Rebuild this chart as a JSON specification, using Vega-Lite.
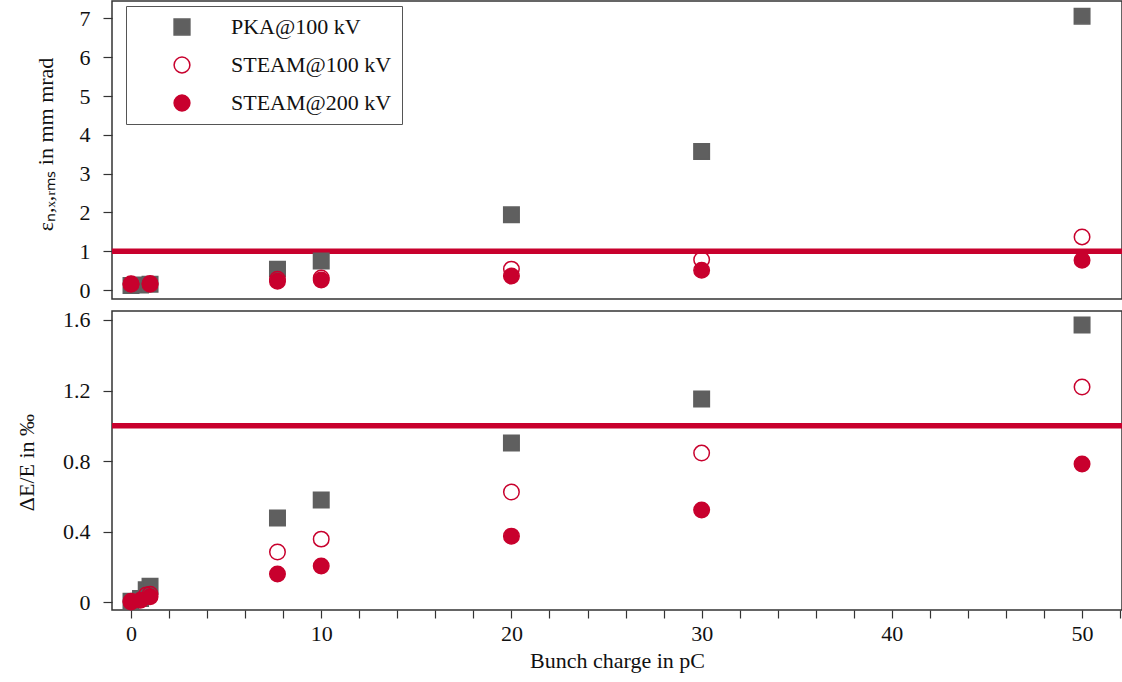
{
  "$schema": "https://vega.github.io/schema/vega-lite/v6.json",
  "background": "white",
  "padding": {"left": 14, "top": 0, "right": 1, "bottom": 4},
  "spacing": 6,
  "config": {
    "font": "Liberation Serif",
    "view": {"stroke": "#333", "strokeWidth": 1.5},
    "axis": {
      "labelFont": "Liberation Serif", "labelFontSize": 22, "labelColor": "#111",
      "titleFont": "Liberation Serif", "titleFontSize": 22, "titleFontWeight": "normal", "titleColor": "#111",
      "grid": false, "domain": false, "tickColor": "#333", "tickWidth": 1.2, "tickSize": 9, "labelOverlap": false
    },
    "legend": {
      "strokeColor": "#555", "fillColor": "white", "padding": 10,
      "symbolOffset": 35, "labelOffset": 38, "rowPadding": 16,
      "labelFont": "Liberation Serif", "labelFontSize": 22, "labelColor": "#111",
      "symbolSize": 250, "symbolStrokeWidth": 1.5, "labelLimit": 400
    }
  },
  "data": {"values": [
      {"kind": "pt", "panel": "top", "series": "PKA@100 kV", "q": 0, "v": 0.12},
      {"kind": "pt", "panel": "top", "series": "PKA@100 kV", "q": 0.5, "v": 0.13},
      {"kind": "pt", "panel": "top", "series": "PKA@100 kV", "q": 1, "v": 0.15},
      {"kind": "pt", "panel": "top", "series": "PKA@100 kV", "q": 7.7, "v": 0.54},
      {"kind": "pt", "panel": "top", "series": "PKA@100 kV", "q": 10, "v": 0.75},
      {"kind": "pt", "panel": "top", "series": "PKA@100 kV", "q": 20, "v": 1.94},
      {"kind": "pt", "panel": "top", "series": "PKA@100 kV", "q": 30, "v": 3.57},
      {"kind": "pt", "panel": "top", "series": "PKA@100 kV", "q": 50, "v": 7.06},
      {"kind": "pt", "panel": "top", "series": "STEAM@100 kV", "q": 0, "v": 0.16},
      {"kind": "pt", "panel": "top", "series": "STEAM@100 kV", "q": 1, "v": 0.17},
      {"kind": "pt", "panel": "top", "series": "STEAM@100 kV", "q": 7.7, "v": 0.28},
      {"kind": "pt", "panel": "top", "series": "STEAM@100 kV", "q": 10, "v": 0.31},
      {"kind": "pt", "panel": "top", "series": "STEAM@100 kV", "q": 20, "v": 0.54},
      {"kind": "pt", "panel": "top", "series": "STEAM@100 kV", "q": 30, "v": 0.78},
      {"kind": "pt", "panel": "top", "series": "STEAM@100 kV", "q": 50, "v": 1.37},
      {"kind": "pt", "panel": "top", "series": "STEAM@200 kV", "q": 0, "v": 0.15},
      {"kind": "pt", "panel": "top", "series": "STEAM@200 kV", "q": 1, "v": 0.15},
      {"kind": "pt", "panel": "top", "series": "STEAM@200 kV", "q": 7.7, "v": 0.23},
      {"kind": "pt", "panel": "top", "series": "STEAM@200 kV", "q": 10, "v": 0.26},
      {"kind": "pt", "panel": "top", "series": "STEAM@200 kV", "q": 20, "v": 0.36},
      {"kind": "pt", "panel": "top", "series": "STEAM@200 kV", "q": 30, "v": 0.51},
      {"kind": "pt", "panel": "top", "series": "STEAM@200 kV", "q": 50, "v": 0.77},
      {"kind": "pt", "panel": "bottom", "series": "PKA@100 kV", "q": 0, "v": 0.005},
      {"kind": "pt", "panel": "bottom", "series": "PKA@100 kV", "q": 0.5, "v": 0.02},
      {"kind": "pt", "panel": "bottom", "series": "PKA@100 kV", "q": 0.8, "v": 0.07},
      {"kind": "pt", "panel": "bottom", "series": "PKA@100 kV", "q": 1, "v": 0.09},
      {"kind": "pt", "panel": "bottom", "series": "PKA@100 kV", "q": 7.7, "v": 0.477},
      {"kind": "pt", "panel": "bottom", "series": "PKA@100 kV", "q": 10, "v": 0.579},
      {"kind": "pt", "panel": "bottom", "series": "PKA@100 kV", "q": 20, "v": 0.902},
      {"kind": "pt", "panel": "bottom", "series": "PKA@100 kV", "q": 30, "v": 1.152},
      {"kind": "pt", "panel": "bottom", "series": "PKA@100 kV", "q": 50, "v": 1.572},
      {"kind": "pt", "panel": "bottom", "series": "STEAM@100 kV", "q": 0, "v": 0.005},
      {"kind": "pt", "panel": "bottom", "series": "STEAM@100 kV", "q": 0.8, "v": 0.04},
      {"kind": "pt", "panel": "bottom", "series": "STEAM@100 kV", "q": 1, "v": 0.045},
      {"kind": "pt", "panel": "bottom", "series": "STEAM@100 kV", "q": 7.7, "v": 0.284},
      {"kind": "pt", "panel": "bottom", "series": "STEAM@100 kV", "q": 10, "v": 0.357},
      {"kind": "pt", "panel": "bottom", "series": "STEAM@100 kV", "q": 20, "v": 0.624},
      {"kind": "pt", "panel": "bottom", "series": "STEAM@100 kV", "q": 30, "v": 0.845},
      {"kind": "pt", "panel": "bottom", "series": "STEAM@100 kV", "q": 50, "v": 1.22},
      {"kind": "pt", "panel": "bottom", "series": "STEAM@200 kV", "q": 0, "v": 0.0},
      {"kind": "pt", "panel": "bottom", "series": "STEAM@200 kV", "q": 0.5, "v": 0.01},
      {"kind": "pt", "panel": "bottom", "series": "STEAM@200 kV", "q": 1, "v": 0.03},
      {"kind": "pt", "panel": "bottom", "series": "STEAM@200 kV", "q": 7.7, "v": 0.159},
      {"kind": "pt", "panel": "bottom", "series": "STEAM@200 kV", "q": 10, "v": 0.204},
      {"kind": "pt", "panel": "bottom", "series": "STEAM@200 kV", "q": 20, "v": 0.374},
      {"kind": "pt", "panel": "bottom", "series": "STEAM@200 kV", "q": 30, "v": 0.522},
      {"kind": "pt", "panel": "bottom", "series": "STEAM@200 kV", "q": 50, "v": 0.783},
      {"kind": "ref", "panel": "top", "series": "ref", "q": 0, "v": 1, "label": "1 mm mrad"},
      {"kind": "ref", "panel": "bottom", "series": "ref", "q": 0, "v": 1, "label": "1 ‰"}
  ]},
  "vconcat": [
    {
      "width": 1010,
      "height": 298,
      "layer": [
        {
          "transform": [{"filter": "datum.panel === 'top' && datum.kind === 'ref'"}],
          "mark": {"type": "rule", "color": "#c8002d", "strokeWidth": 5.5},
          "encoding": {
            "y": {"field": "v", "type": "quantitative", "scale": {"domain": [-0.23, 7.45], "nice": false, "zero": false}}
          }
        },
        {
          "transform": [{"filter": "datum.panel === 'top' && datum.kind === 'pt'"}],
          "mark": {"type": "point", "opacity": 1, "strokeWidth": 1.5, "size": 240},
          "encoding": {
            "x": {"field": "q", "type": "quantitative", "axis": null, "scale": {"domain": [-1, 52.1], "nice": false, "zero": false}},
            "y": {
              "field": "v", "type": "quantitative",
              "axis": {"values": [0, 1, 2, 3, 4, 5, 6, 7], "format": "~g", "labelPadding": 13, "title": "εₙ,ₓ,ᵣₘₛ in mm mrad", "titleX": -67, "titleY": 143, "titleAngle": 270, "titleAlign": "center", "titleBaseline": "middle"}
            },
            "shape": {"field": "series", "type": "nominal", "scale": {"domain": ["PKA@100 kV", "STEAM@100 kV", "STEAM@200 kV"], "range": ["square", "circle", "circle"]},
              "legend": {"title": null, "orient": "none", "legendX": 14, "legendY": 5}},
            "fill": {"field": "series", "type": "nominal", "scale": {"domain": ["PKA@100 kV", "STEAM@100 kV", "STEAM@200 kV"], "range": ["#5f5f5f", "transparent", "#c8002d"]},
              "legend": {"title": null, "orient": "none", "legendX": 14, "legendY": 5}},
            "stroke": {"field": "series", "type": "nominal", "scale": {"domain": ["PKA@100 kV", "STEAM@100 kV", "STEAM@200 kV"], "range": ["#5f5f5f", "#c8002d", "#c8002d"]},
              "legend": {"title": null, "orient": "none", "legendX": 14, "legendY": 5}}
          }
        }
      ]
    },
    {
      "width": 1010,
      "height": 299,
      "layer": [
        {
          "transform": [{"filter": "datum.panel === 'bottom' && datum.kind === 'ref'"}],
          "mark": {"type": "rule", "color": "#c8002d", "strokeWidth": 5.5},
          "encoding": {
            "y": {"field": "v", "type": "quantitative", "scale": {"domain": [-0.045, 1.651], "nice": false, "zero": false}}
          }
        },
        {
          "transform": [{"filter": "datum.panel === 'bottom' && datum.kind === 'pt'"}],
          "mark": {"type": "point", "opacity": 1, "strokeWidth": 1.5, "size": 240},
          "encoding": {
            "x": {
              "field": "q", "type": "quantitative", "scale": {"domain": [-1, 52.1], "nice": false, "zero": false},
              "axis": {
                "values": [0, 2, 4, 6, 8, 10, 12, 14, 16, 18, 20, 22, 24, 26, 28, 30, 32, 34, 36, 38, 40, 42, 44, 46, 48, 50, 52],
                "labelExpr": "datum.value % 10 === 0 ? datum.label : ''",
                "tickSize": 8, "labelPadding": 5, "title": "Bunch charge in pC", "titlePadding": 6
              }
            },
            "y": {
              "field": "v", "type": "quantitative",
              "axis": {"values": [0, 0.2, 0.4, 0.6, 0.8, 1, 1.2, 1.4, 1.6], "format": "~g", "labelPadding": 13, "title": "ΔE/E in ‰", "titleX": -86, "titleY": 151, "titleAngle": 270, "titleAlign": "center", "titleBaseline": "middle"}
            },
            "shape": {"field": "series", "type": "nominal", "scale": {"domain": ["PKA@100 kV", "STEAM@100 kV", "STEAM@200 kV"], "range": ["square", "circle", "circle"]}, "legend": null},
            "fill": {"field": "series", "type": "nominal", "scale": {"domain": ["PKA@100 kV", "STEAM@100 kV", "STEAM@200 kV"], "range": ["#5f5f5f", "transparent", "#c8002d"]}, "legend": null},
            "stroke": {"field": "series", "type": "nominal", "scale": {"domain": ["PKA@100 kV", "STEAM@100 kV", "STEAM@200 kV"], "range": ["#5f5f5f", "#c8002d", "#c8002d"]}, "legend": null}
          }
        }
      ]
    }
  ],
  "resolve": {"scale": {"x": "independent", "y": "independent"}}
}
